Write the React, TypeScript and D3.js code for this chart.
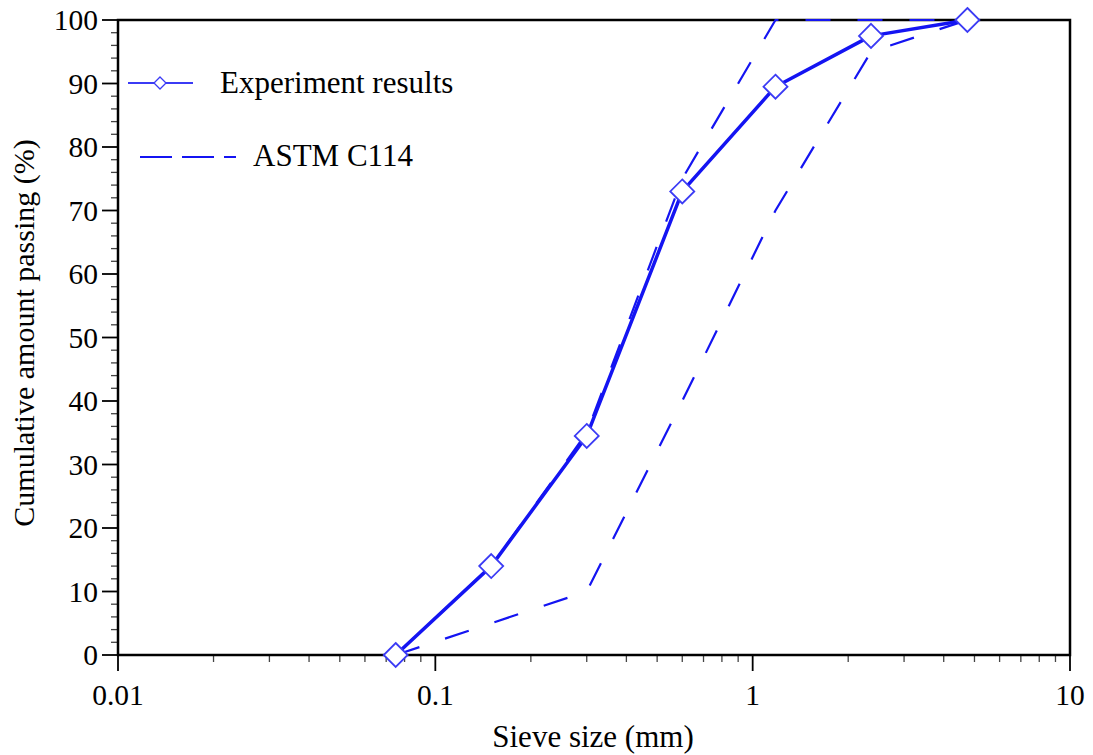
import React from "react";
import * as d3 from "d3";

const sieveSizes = [0.075, 0.15, 0.3, 0.6, 1.18, 2.36, 4.75];
const experimentValues = [0, 14, 34.5, 73, 89.5, 97.5, 100];
const astmUpperValues = [0, 14, 35, 75, 100, 100, 100];
const astmLowerValues = [0, 5, 10, 40, 70, 95, 100];
const xTickValues = [0.01, 0.1, 1, 10];
const xTickLabels = ["0.01", "0.1", "1", "10"];
const yTickValues = [0, 10, 20, 30, 40, 50, 60, 70, 80, 90, 100];

const W = 1093;
const H = 755;
const L = 118, R = 1070, T = 20, B = 655;
const BLUE = "#1414f2";
const MARK = "#3b3bf5";
const FONT = "'Liberation Serif', 'Times New Roman', serif";

export default function App() {
  const x = d3.scaleLog().domain([0.01, 10]).range([L, R]);
  const y = d3.scaleLinear().domain([0, 100]).range([B, T]);

  const line = d3
    .line<[number, number]>()
    .x((d) => x(d[0]))
    .y((d) => y(d[1]));

  const exp: [number, number][] = sieveSizes.map((s, i) => [s, experimentValues[i]]);
  const up: [number, number][] = sieveSizes.map((s, i) => [s, astmUpperValues[i]]);
  const lo: [number, number][] = sieveSizes.map((s, i) => [s, astmLowerValues[i]]);

  const xMinor: number[] = [];
  [0.01, 0.1, 1].forEach((dec) => {
    for (let k = 2; k <= 9; k++) xMinor.push(dec * k);
  });
  const yMinor: number[] = [];
  for (let v = 0; v <= 100; v += 2) if (v % 10 !== 0) yMinor.push(v);

  const diamond = (cx: number, cy: number, h: number) =>
    `M${cx},${cy - h}L${cx + h},${cy}L${cx},${cy + h}L${cx - h},${cy}Z`;

  return (
    <svg
      width={W}
      height={H}
      style={{ position: "absolute", left: 0, top: 0, background: "#fff" }}
      fontFamily={FONT}
    >
      <rect x={0} y={0} width={W} height={H} fill="#fff" />
      {/* minor ticks */}
      {yMinor.map((v) => (
        <line key={"ym" + v} x1={L - 7} x2={L} y1={y(v)} y2={y(v)} stroke="#444" strokeWidth={1.3} />
      ))}
      {xMinor.map((v) => (
        <line key={"xm" + v} x1={x(v)} x2={x(v)} y1={B} y2={B + 7} stroke="#444" strokeWidth={1.3} />
      ))}
      {/* major ticks */}
      {yTickValues.map((v) => (
        <g key={"yt" + v}>
          <line x1={L - 16} x2={L} y1={y(v)} y2={y(v)} stroke="#000" strokeWidth={1.8} />
          <text x={L - 20} y={y(v)} dy="0.34em" textAnchor="end" fontSize={29.5} fill="#000">
            {v}
          </text>
        </g>
      ))}
      {xTickValues.map((v, i) => (
        <g key={"xt" + v}>
          <line x1={x(v)} x2={x(v)} y1={B} y2={B + 16} stroke="#000" strokeWidth={1.8} />
          <text x={x(v)} y={B + 50} textAnchor="middle" fontSize={29.5} fill="#000">
            {xTickLabels[i]}
          </text>
        </g>
      ))}
      {/* frame */}
      <rect x={L} y={T} width={R - L} height={B - T} fill="none" stroke="#000" strokeWidth={2.5} />

      {/* ASTM limits */}
      <path d={line(up) || ""} fill="none" stroke={BLUE} strokeWidth={2.2} strokeDasharray="25 27" />
      <path d={line(lo) || ""} fill="none" stroke={BLUE} strokeWidth={2.2} strokeDasharray="25 27" />
      {/* experiment */}
      <path d={line(exp) || ""} fill="none" stroke={BLUE} strokeWidth={3.5} strokeLinejoin="round" />
      {exp.map((d, i) => (
        <path
          key={"m" + i}
          d={diamond(x(d[0]), y(d[1]), 12)}
          fill="#fff"
          stroke={MARK}
          strokeWidth={1.8}
        />
      ))}

      {/* legend */}
      <line x1={128} x2={193} y1={83} y2={83} stroke={MARK} strokeWidth={1.8} />
      <path d={diamond(160, 83, 6)} fill="#fff" stroke={MARK} strokeWidth={1.3} />
      <text x={220} y={93} fontSize={31} fill="#000">
        Experiment results
      </text>
      <line x1={140} x2={236} y1={157} y2={157} stroke={BLUE} strokeWidth={2.2} strokeDasharray="32 10" />
      <text x={253} y={166} fontSize={31} fill="#000">
        ASTM C114
      </text>

      {/* axis titles */}
      <text x={(493 + 693) / 2} y={747} textAnchor="middle" fontSize={31} fill="#000">
        Sieve size (mm)
      </text>
      <text
        transform={`translate(34,${333}) rotate(-90)`}
        textAnchor="middle"
        fontSize={30}
        fill="#000"
      >
        Cumulative amount passing (%)
      </text>
    </svg>
  );
}
